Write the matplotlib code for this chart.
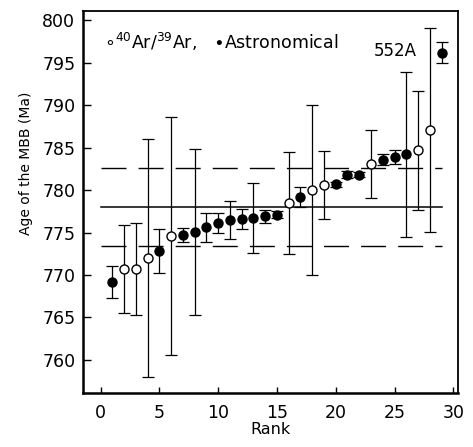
import matplotlib
matplotlib.use("Agg")
import matplotlib.pyplot as plt
import numpy as np

plt.rcParams['font.family'] = ['DejaVu Sans']

rank = list(range(1, 30))
age = [769.2, 770.7, 770.7, 772.0, 772.8, 774.6, 774.7, 775.1, 775.6, 776.1,
       776.5, 776.6, 776.7, 776.9, 777.1, 778.5, 779.2, 780.0, 780.6, 780.7,
       781.8, 781.8, 783.1, 783.6, 783.9, 784.2, 784.7, 787.1, 796.2]
err = [1.9, 5.2, 5.4, 14.0, 2.6, 14.0, 0.8, 9.8, 1.7, 1.2,
       2.2, 1.2, 4.1, 0.8, 0.4, 6.0, 1.2, 10.0, 4.0, 0.3,
       0.4, 0.3, 4.0, 0.7, 0.8, 9.7, 7.0, 12.0, 1.2]
# 'o' = 40Ar/39Ar (open), 'a' = astronomical (filled)
kind = ['a', 'o', 'o', 'o', 'a', 'o', 'a', 'a', 'a', 'a',
        'a', 'a', 'a', 'a', 'a', 'o', 'a', 'o', 'o', 'a',
        'a', 'a', 'o', 'a', 'a', 'a', 'o', 'o', 'a']
mean_age = 778.0
band_hi = 782.6
band_lo = 773.4
xticks = [0, 5, 10, 15, 20, 25, 30]
yticks = [760, 765, 770, 775, 780, 785, 790, 795, 800]

fig = plt.figure(figsize=(4.73, 4.47), dpi=100)
ax = fig.add_axes([83/473, 1-393/447, 375/473, 382/447])

ax.plot([0, 29], [mean_age, mean_age], color='black', lw=1.1, zorder=1)
for v in (band_hi, band_lo):
    ax.plot([0, 29], [v, v], color='black', lw=1.0, dashes=(18, 8.7), zorder=1)

for r, a, e, k in zip(rank, age, err, kind):
    face = 'white' if k == 'o' else 'black'
    ax.errorbar([r], [a], yerr=[e], fmt='none', ecolor='black', elinewidth=0.9,
                capsize=4, capthick=0.9, zorder=2)
    ax.plot([r], [a], marker='o', ms=6.5, mfc=face, mec='black', mew=1.0,
            ls='none', zorder=3)

ax.set_xlim(-1.5, 30.4)
ax.set_ylim(756.1, 801.1)
ax.set_xticks(xticks)
ax.set_yticks(yticks)
ax.tick_params(direction='in', labelsize=12.5, width=1)
ax.tick_params(axis='x', length=4.5, pad=8)
ax.tick_params(axis='y', length=6, pad=5.5)
for s in ax.spines.values():
    s.set_linewidth(1.8)
ax.spines['right'].set_linewidth(1.3)
ax.spines['top'].set_linewidth(1.3)

ax.set_xlabel('Rank', fontsize=11.5, labelpad=0)
ax.set_ylabel('Age of the MBB (Ma)', fontsize=10)
ax.yaxis.set_label_coords(-0.133, 0.6)

ax.text(0.055, 0.92, r'$\circ$$^{40}$Ar/$^{39}$Ar,   $\bullet$Astronomical',
        transform=ax.transAxes, fontsize=12.5, va='center', ha='left')
ax.text(0.775, 0.895, '552A', transform=ax.transAxes, fontsize=12,
        va='center', ha='left')

fig.savefig('out.png', dpi=100)
